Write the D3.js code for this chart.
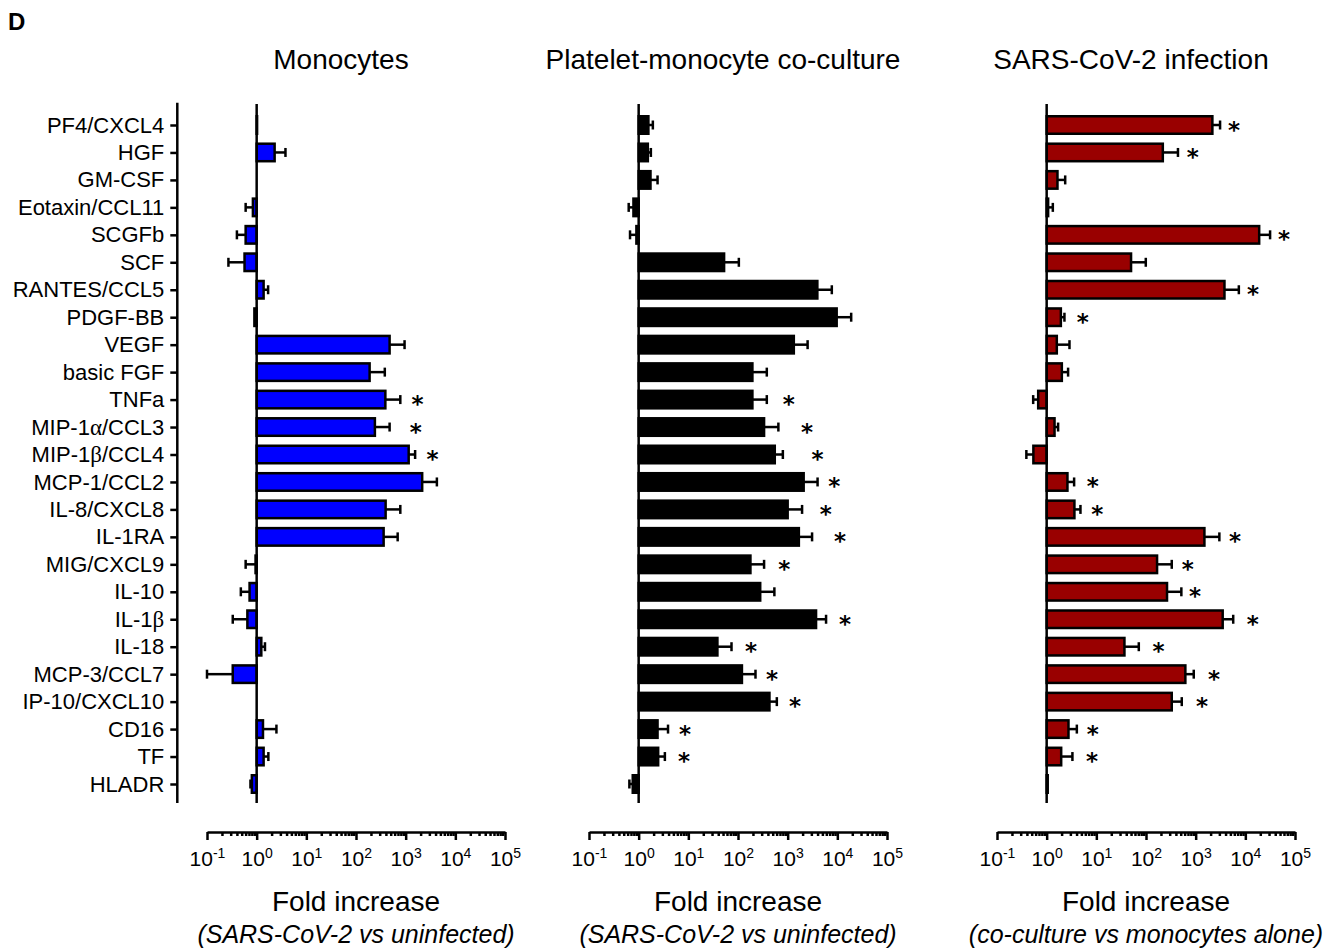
<!DOCTYPE html>
<html>
<head>
<meta charset="utf-8">
<script src="https://cdn.jsdelivr.net/npm/d3@7"></script>
<style>
  html, body { margin: 0; padding: 0; background: #fff; }
  svg { display: block; font-family: "Liberation Sans", Arial, sans-serif; }
</style>
</head>
<body>
<svg id="chart" width="1336" height="949"></svg>
<script>
// Cytokine / marker names, top to bottom
const categories = [
  "PF4/CXCL4", "HGF", "GM-CSF", "Eotaxin/CCL11", "SCGFb", "SCF", "RANTES/CCL5",
  "PDGF-BB", "VEGF", "basic FGF", "TNFa", "MIP-1α/CCL3", "MIP-1β/CCL4",
  "MCP-1/CCL2", "IL-8/CXCL8", "IL-1RA", "MIG/CXCL9", "IL-10", "IL-1β", "IL-18",
  "MCP-3/CCL7", "IP-10/CXCL10", "CD16", "TF", "HLADR"
];

// Monocytes: fold increase (SARS-CoV-2 vs uninfected), error-bar end, star position
const monoFold = [1.02, 2.3, 1.0, 0.84, 0.6, 0.57, 1.38, 0.9, 475, 188, 390, 240, 1150,
  2150, 395, 360, 0.95, 0.72, 0.65, 1.24, 0.33, 1.0, 1.34, 1.38, 0.8];
const monoErr = [1.03, 3.8, 1.0, 0.6, 0.4, 0.27, 1.7, 0.88, 950, 380, 780, 475, 1550,
  4250, 780, 690, 0.6, 0.48, 0.33, 1.47, 0.10, 1.0, 2.5, 1.72, 0.75];
const monoStar = [null, null, null, null, null, null, null, null, null, null, 1740, 1590, 3470,
  null, null, null, null, null, null, null, null, null, null, null, null];

// Platelet-monocyte co-culture: fold increase (SARS-CoV-2 vs uninfected)
const cocFold = [1.57, 1.53, 1.73, 0.785, 0.9, 52.5, 3960, 9700, 1330, 195, 195, 335, 550,
  2100, 1000, 1680, 178, 280, 3730, 38.5, 120, 430, 2.4, 2.47, 0.76];
const cocErr = [1.93, 1.76, 2.4, 0.63, 0.67, 104, 7740, 19000, 2520, 380, 380, 650, 800,
  4000, 1950, 3100, 335, 540, 5930, 74, 225, 605, 3.9, 3.37, 0.65];
const cocStar = [null, null, null, null, null, null, null, null, null, null, 1050, 2460, 4000,
  8700, 5830, 11300, 850, null, 14300, 183, 485, 1400, 8.6, 8.2, null];

// SARS-CoV-2 infection: fold increase (co-culture vs monocytes alone)
const infFold = [2170, 218, 1.65, 1.07, 19000, 50, 3800, 1.93, 1.6, 2.02, 0.675, 1.44, 0.54,
  2.62, 3.62, 1500, 167, 265, 3500, 36.8, 620, 330, 2.75, 1.96, 1.05];
const infErr = [3100, 440, 2.36, 1.33, 31500, 99, 7400, 2.28, 2.88, 2.7, 0.535, 1.7, 0.39,
  3.57, 4.79, 3000, 330, 515, 5700, 71.6, 915, 525, 4.05, 3.3, 1.05];
const infStar = [5900, 870, null, null, 60000, null, 14300, 5.35, null, null, null, null, null,
  8.5, 10.4, 6200, 695, 975, 14100, 178, 2350, 1350, 8.5, 8.2, null];

// Axis decades and their labels (base, exponent)
const decades = [0.1, 1, 10, 100, 1000, 10000, 100000];
const decadeExp = ["-1", "0", "1", "2", "3", "4", "5"];

const panelTitles = ["Monocytes", "Platelet-monocyte co-culture", "SARS-CoV-2 infection"];
const panelSubtitles = ["(SARS-CoV-2 vs uninfected)", "(SARS-CoV-2 vs uninfected)",
  "(co-culture vs monocytes alone)"];
const panelColors = ["#0000ff", "#000000", "#990000"];

const panels = [
  { fold: monoFold, err: monoErr, star: monoStar, range: [207, 505] },
  { fold: cocFold, err: cocErr, star: cocStar, range: [589, 887] },
  { fold: infFold, err: infErr, star: infStar, range: [997, 1295] }
].map((p, i) => ({ ...p, title: panelTitles[i], sub: panelSubtitles[i], color: panelColors[i] }));

const svg = d3.select("#chart");
const LW = 2.5;            // line weight for axes, outlines and error bars
const barH = 17.5;
const capH = 9;
const axisY = 832;

const y = d3.scalePoint().domain(categories).range([125, 784]);

// Panel letter
svg.append("text").attr("x", 8).attr("y", 30)
  .attr("font-size", 24).attr("font-weight", "bold").text("D");

// Category axis on the left
const yAxis = d3.axisLeft(y).tickSize(7).tickSizeOuter(0).tickPadding(6);
const yg = svg.append("g").attr("transform", "translate(177.3,0)").call(yAxis);
yg.select(".domain").remove();
yg.append("line").attr("x1", 0).attr("x2", 0).attr("y1", 102.7).attr("y2", 803)
  .attr("stroke", "#000").attr("stroke-width", LW);
yg.selectAll(".tick line").attr("stroke-width", LW);
yg.selectAll(".tick text")
  .attr("font-size", 22).attr("fill", "#000").attr("font-family", "'Liberation Sans', Arial, sans-serif")
  .each(function(d) {
    const t = d3.select(this).text(null);
    d.split(/([αβ])/).filter(s => s.length).forEach(part => {
      const ts = t.append("tspan").text(part);
      if (/[αβ]/.test(part)) ts.attr("font-family", "'Liberation Serif', serif").attr("font-size", 23);
    });
  });

panels.forEach(p => {
  const x = d3.scaleLog().domain([0.1, 100000]).range(p.range);
  const cx = (p.range[0] + p.range[1]) / 2;
  const g = svg.append("g");
  const x1 = x(1);

  // Title
  g.append("text").attr("x", cx - 15).attr("y", 69).attr("text-anchor", "middle")
    .attr("font-size", 28).text(p.title);

  // Bars
  g.selectAll("rect.bar").data(p.fold).join("rect").attr("class", "bar")
    .attr("x", d => Math.min(x(d), x1))
    .attr("width", d => Math.abs(x(d) - x1))
    .attr("y", (d, i) => y(categories[i]) - barH / 2)
    .attr("height", barH)
    .attr("fill", p.color)
    .attr("stroke", "#000").attr("stroke-width", LW);

  // Error bars (one-sided, away from the baseline)
  const eg = g.selectAll("g.err").data(p.fold.map((d, i) => ({ v: d, e: p.err[i], c: categories[i] })))
    .join("g").attr("class", "err").filter(d => Math.abs(x(d.e) - x(d.v)) > 0.5);
  eg.append("line")
    .attr("x1", d => x(d.v)).attr("x2", d => x(d.e))
    .attr("y1", d => y(d.c)).attr("y2", d => y(d.c))
    .attr("stroke", "#000").attr("stroke-width", LW);
  eg.append("line")
    .attr("x1", d => x(d.e)).attr("x2", d => x(d.e))
    .attr("y1", d => y(d.c) - capH / 2).attr("y2", d => y(d.c) + capH / 2)
    .attr("stroke", "#000").attr("stroke-width", LW);

  // Baseline at fold = 1
  g.append("line").attr("x1", x1).attr("x2", x1).attr("y1", 104).attr("y2", 803)
    .attr("stroke", "#000").attr("stroke-width", LW);

  // Significance stars
  g.selectAll("text.star").data(p.star.map((s, i) => ({ s, c: categories[i] })).filter(d => d.s != null))
    .join("text").attr("class", "star")
    .attr("x", d => x(d.s)).attr("y", d => y(d.c) + 12.5)
    .attr("text-anchor", "middle").attr("font-size", 23)
    .attr("font-family", "'DejaVu Sans', sans-serif").attr("font-weight", "bold").text("*");

  // Log axis: minor ticks
  const minor = [];
  for (let e = -1; e < 5; e++) for (let k = 2; k <= 9; k++) minor.push(k * Math.pow(10, e));
  const ag = g.append("g").attr("transform", `translate(0,${axisY})`);
  ag.call(d3.axisBottom(x).tickValues(minor).tickSize(4).tickSizeOuter(0).tickFormat(""));
  ag.selectAll(".tick line").attr("stroke-width", LW);
  ag.select(".domain").attr("stroke-width", LW);

  // Log axis: decades with superscript labels
  const mg = g.append("g").attr("transform", `translate(0,${axisY})`);
  mg.call(d3.axisBottom(x).tickValues(decades).tickSize(8).tickSizeOuter(0).tickFormat(""));
  mg.select(".domain").remove();
  mg.selectAll(".tick line").attr("stroke-width", LW);
  mg.selectAll(".tick").append("text")
    .attr("y", 34).attr("text-anchor", "middle").attr("fill", "#000").attr("font-size", 21)
    .each(function(d, i) {
      const t = d3.select(this);
      t.append("tspan").text("10");
      t.append("tspan").attr("font-size", 14).attr("dy", -8).text(decadeExp[i]);
    });

  // Axis titles
  g.append("text").attr("x", cx).attr("y", 911).attr("text-anchor", "middle")
    .attr("font-size", 28).text("Fold increase");
  g.append("text").attr("x", cx).attr("y", 943).attr("text-anchor", "middle")
    .attr("font-size", 25).attr("font-style", "italic").text(p.sub);
});
</script>
</body>
</html>
